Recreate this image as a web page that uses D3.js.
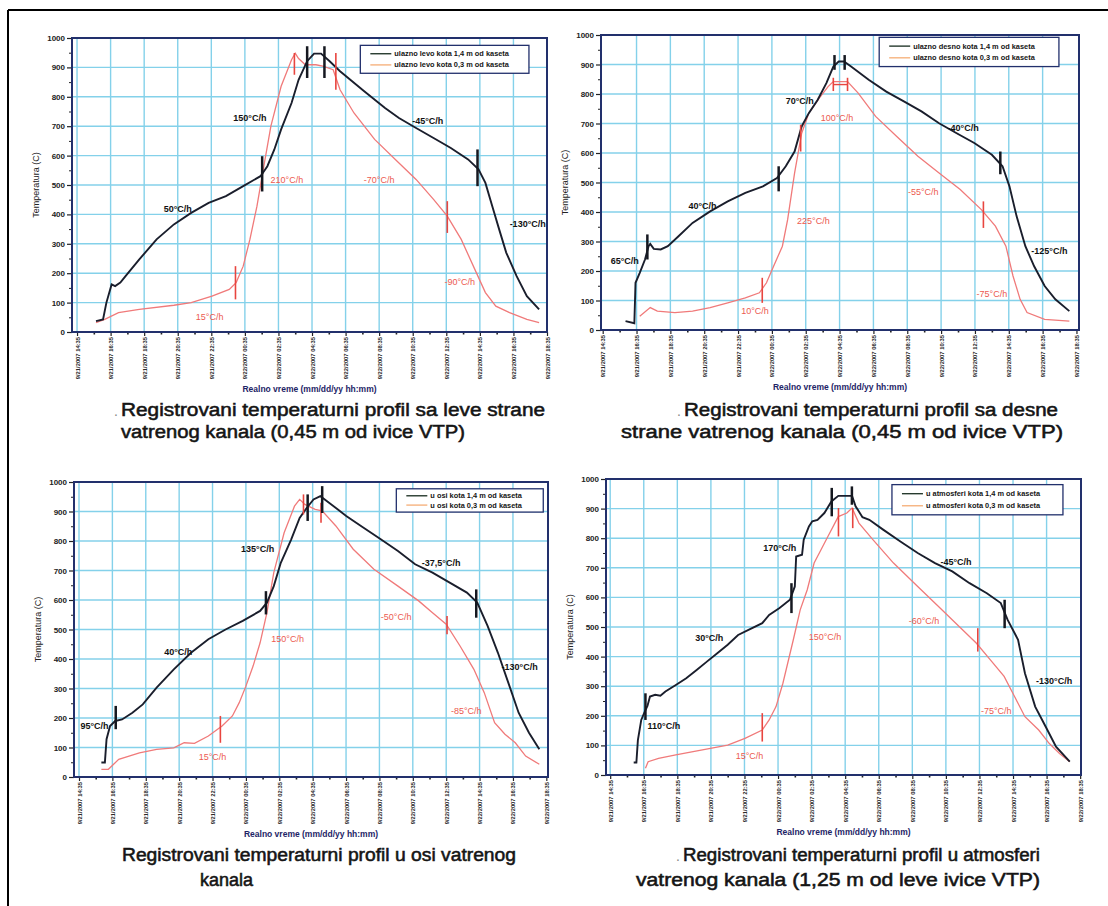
<!DOCTYPE html>
<html><head><meta charset="utf-8">
<script src="https://cdn.jsdelivr.net/npm/d3@7"></script>
<style>body{margin:0;background:#fff}svg{display:block;font-family:"Liberation Sans",Arial,sans-serif}</style>
</head><body><svg id="c" width="1108" height="906"></svg>
<script>
// ---------- DATA ----------
const tickHours = [0,2,4,6,8,10,12,14,16,18,20,22,24,26,28];
const tickLabels = ["9/21/2007 14:35","9/21/2007 16:35","9/21/2007 18:35","9/21/2007 20:35","9/21/2007 22:35",
  "9/22/2007 00:35","9/22/2007 02:35","9/22/2007 04:35","9/22/2007 06:35","9/22/2007 08:35",
  "9/22/2007 10:35","9/22/2007 12:35","9/22/2007 14:35","9/22/2007 16:35","9/22/2007 18:35"];
const yTicks = [0,100,200,300,400,500,600,700,800,900,1000];

// panel 1: ulazno levo
const p1Upper = [[1.13,37],[1.55,43],[1.75,100],[2.06,162],[2.27,156],[2.58,168],[2.89,190],[3.71,247],[4.74,315],[5.77,366],[6.8,405],[7.84,439],[8.87,462],[9.9,496],[10.93,530],[11.34,564],[11.75,620],[12.16,689],[12.78,779],[13.2,858],[13.71,921],[14.12,947],[14.54,947],[15.05,921],[15.67,887],[17.11,819],[18.35,762],[19.18,728],[20.2,694],[21.24,660],[22.27,626],[23.3,587],[23.92,553],[24.33,507],[24.74,428],[25.15,349],[25.57,270],[26.19,190],[26.8,122],[27.53,77]];
const p1Lower = [[1.13,32],[1.65,43],[2.47,66],[3.71,77],[5.77,91],[6.8,100],[8.04,122],[9.07,145],[9.48,168],[9.9,224],[10.3,315],[10.72,428],[11.13,564],[11.55,700],[12.16,836],[12.78,926],[13.0,948],[13.2,930],[13.6,909],[14.23,909],[14.64,904],[15.26,892],[15.67,824],[16.5,745],[17.73,655],[19.18,575],[20.2,519],[21.24,451],[22.06,394],[22.89,315],[23.7,213],[24.33,134],[24.95,88],[25.77,66],[26.8,43],[27.53,32]];
const p1BlackNotes = [[10.3,730,"150°C/h"],[20.9,718,"-45°C/h"],[6.0,418,"50°C/h"],[26.85,367,"-130°C/h"]];
const p1RedNotes = [[12.5,517,"210°C/h"],[18.0,517,"-70°C/h"],[7.9,53,"15°C/h"],[22.8,169,"-90°C/h"]];
const p1BlackMarks = [[11.03,478,598],[13.71,864,972],[14.74,864,972],[23.86,496,621]];
const p1RedMarks = [[9.44,111,224],[12.95,875,949],[15.42,824,949],[22.06,337,445]];
const p1Legend = ["ulazno levo kota 1,4 m od kaseta","ulazno levo kota 0,3 m od kaseta"];

// panel 2: ulazno desno
const p2Upper = [[1.35,30],[1.87,23],[1.94,160],[2.19,194],[2.5,239],[2.71,284],[2.81,292],[3.02,275],[3.43,273],[3.85,284],[4.48,318],[5.31,363],[6.35,402],[7.39,436],[8.43,465],[9.47,487],[10.3,515],[10.82,555],[11.34,605],[11.76,690],[12.18,735],[12.7,780],[13.22,837],[13.63,893],[13.95,910],[14.26,910],[14.68,893],[15.72,848],[16.76,808],[17.8,775],[18.84,741],[19.88,701],[20.92,667],[21.96,634],[23.0,594],[23.63,555],[24.04,487],[24.46,386],[24.98,284],[25.5,216],[26.12,149],[26.75,104],[27.58,64]];
const p2Lower = [[2.19,47],[2.81,76],[3.23,64],[4.27,59],[5.31,64],[6.35,76],[7.39,92],[8.43,109],[9.26,126],[9.68,160],[10.1,216],[10.62,284],[10.93,374],[11.34,532],[11.76,667],[12.18,735],[12.8,786],[13.32,825],[13.63,842],[14.47,842],[15.1,803],[16.13,724],[17.38,656],[18.63,589],[19.88,532],[21.13,476],[22.38,408],[23.21,352],[23.83,284],[24.25,183],[24.67,104],[25.08,59],[26.12,36],[27.58,30]];
const p2BlackNotes = [[1.3,235,"65°C/h"],[5.9,421,"40°C/h"],[11.65,776,"70°C/h"],[21.3,686,"-40°C/h"],[26.4,269,"-125°C/h"]];
const p2RedNotes = [[13.85,720,"100°C/h"],[12.45,370,"225°C/h"],[18.95,469,"-55°C/h"],[9.0,66,"10°C/h"],[23.0,122,"-75°C/h"]];
const p2BlackMarks = [[2.64,239,324],[10.4,470,555],[13.7,882,932],[14.3,882,932],[23.5,528,605]];
const p2RedMarks = [[9.43,92,177],[11.7,605,696],[13.63,810,855],[14.47,810,855],[22.5,346,436]];
const p2RedBracket = [[13.63,832],[14.47,832]];
const p2Legend = ["ulazno desno kota 1,4 m od kaseta","ulazno desno kota 0,3 m od kaseta"];

// panel 3: u osi
const p3Upper = [[1.34,49],[1.55,49],[1.65,128],[1.86,173],[2.17,190],[2.58,195],[3.2,218],[3.82,246],[4.65,303],[5.68,365],[6.71,421],[7.75,467],[8.78,500],[9.81,529],[10.85,563],[11.26,591],[11.67,647],[12.09,726],[12.71,805],[13.22,878],[13.64,912],[14.05,941],[14.46,952],[14.98,930],[16.01,885],[17.05,845],[18.08,806],[19.11,766],[20.14,721],[21.18,693],[22.21,659],[23.24,625],[23.86,591],[24.48,512],[25.1,421],[25.72,320],[26.34,218],[26.96,150],[27.58,94]];
const p3Lower = [[1.34,26],[1.76,26],[2.38,60],[3.62,82],[4.65,94],[5.68,99],[6.3,116],[6.92,114],[7.75,139],[8.57,173],[9.19,207],[9.6,252],[10.0,308],[10.43,376],[10.85,455],[11.26,557],[11.67,693],[12.29,828],[12.91,918],[13.22,941],[13.53,924],[14.15,907],[14.57,902],[15.39,851],[16.43,772],[17.67,704],[19.11,647],[20.35,597],[21.18,557],[22.0,518],[22.83,444],[23.66,365],[24.28,286],[24.9,184],[25.52,145],[26.14,116],[26.76,71],[27.58,43]];
const p3BlackNotes = [[0.93,173,"95°C/h"],[5.95,423,"40°C/h"],[10.7,773,"135°C/h"],[21.7,725,"-37,5°C/h"],[26.4,374,"-130°C/h"]];
const p3RedNotes = [[12.5,468,"150°C/h"],[8.0,67,"15°C/h"],[19.0,542,"-50°C/h"],[23.2,223,"-85°C/h"]];
const p3BlackMarks = [[2.2,162,241],[11.2,551,630],[13.7,868,958],[14.57,895,986],[23.8,540,636]];
const p3RedMarks = [[8.47,116,207],[13.45,890,958],[14.5,862,930],[22.05,484,546]];
const p3Legend = ["u osi kota 1,4 m od kaseta","u osi kota 0,3 m od kaseta"];

// panel 4: u atmosferi
const p4Upper = [[1.4,42],[1.56,42],[1.65,118],[1.85,186],[2.06,214],[2.22,233],[2.37,265],[2.68,271],[2.99,268],[3.29,282],[3.91,304],[4.53,327],[5.15,355],[5.76,383],[6.38,411],[7.0,440],[7.62,473],[8.24,490],[9.06,513],[9.47,541],[10.09,564],[10.71,592],[11.0,637],[11.08,738],[11.43,744],[11.53,795],[11.84,840],[12.04,857],[12.35,862],[12.76,885],[13.18,924],[13.59,943],[14.41,943],[14.62,908],[15.03,871],[15.44,862],[16.26,829],[17.29,789],[18.32,750],[19.35,716],[20.38,688],[21.41,648],[22.44,614],[23.27,581],[23.68,524],[24.3,457],[24.71,344],[25.32,231],[25.94,164],[26.56,96],[27.38,45]];
const p4Lower = [[2.1,23],[2.26,45],[2.88,56],[3.91,68],[4.94,79],[5.97,90],[7.0,101],[8.03,124],[9.06,152],[9.47,186],[9.88,231],[10.29,310],[10.91,457],[11.32,558],[11.74,626],[12.15,716],[12.56,761],[12.97,806],[13.59,873],[14.1,885],[14.41,902],[14.82,851],[15.65,795],[16.88,716],[18.32,637],[19.56,569],[20.79,502],[21.82,445],[22.65,389],[23.47,333],[24.09,265],[24.71,197],[25.53,152],[26.15,107],[26.77,73],[27.38,45]];
const p4BlackNotes = [[3.2,166,"110°C/h"],[5.9,464,"30°C/h"],[10.1,768,"170°C/h"],[20.6,721,"-45°C/h"],[26.45,319,"-130°C/h"]];
const p4RedNotes = [[12.8,466,"150°C/h"],[8.3,64,"15°C/h"],[18.7,520,"-60°C/h"],[23.0,218,"-75°C/h"]];
const p4BlackMarks = [[2.1,186,276],[10.8,547,648],[13.2,874,970],[14.4,913,975],[23.5,496,592]];
const p4RedMarks = [[9.06,113,209],[13.6,806,902],[14.45,834,902],[21.9,417,496]];
const p4Legend = ["u atmosferi kota 1,4 m od kaseta","u atmosferi kota 0,3 m od kaseta"];

// ---------- LAYOUT ----------
const panels = [
  {box:[72,547,38,332], dom:[-0.3,28.0], up:p1Upper, lo:p1Lower, bn:p1BlackNotes, rn:p1RedNotes, bm:p1BlackMarks, rm:p1RedMarks, leg:p1Legend, lg:[0.607,0.962,975,880]},
  {box:[601,1079,35,330], dom:[-0.1,28.15], up:p2Upper, lo:p2Lower, bn:p2BlackNotes, rn:p2RedNotes, bm:p2BlackMarks, rm:p2RedMarks, leg:p2Legend, lg:[0.582,0.958,992,893], br:p2RedBracket},
  {box:[74,548,482,777], dom:[-0.3,28.1], up:p3Upper, lo:p3Lower, bn:p3BlackNotes, rn:p3RedNotes, bm:p3BlackMarks, rm:p3RedMarks, leg:p3Legend, lg:[0.68,0.99,977,898]},
  {box:[606,1081,479,775], dom:[-0.25,28.05], up:p4Upper, lo:p4Lower, bn:p4BlackNotes, rn:p4RedNotes, bm:p4BlackMarks, rm:p4RedMarks, leg:p4Legend, lg:[0.602,0.962,981,879]}
];

const BLACK = "#1a1e2c", RED = "#f07a7a", REDTXT = "#ec5a50", GRID = "#84d1ea", FRAME = "#22306c";
const svg = d3.select("#c");

// outer frame
svg.append("line").attr("x1",8).attr("x2",1108).attr("y1",10).attr("y2",10).attr("stroke","#000").attr("stroke-width",2);
svg.append("line").attr("x1",8).attr("x2",8).attr("y1",10).attr("y2",906).attr("stroke","#000").attr("stroke-width",2);

panels.forEach(p => {
  const [L,R,T,B] = p.box;
  const x = d3.scaleLinear().domain(p.dom).range([L,R]);
  const y = d3.scaleLinear().domain([0,1000]).range([B,T]);
  const g = svg.append("g");

  // grid
  g.append("g").selectAll("line").data(tickHours.filter(h => x(h) > L+3 && x(h) < R-3)).join("line")
    .attr("x1",d=>x(d)).attr("x2",d=>x(d)).attr("y1",T).attr("y2",B)
    .attr("stroke",GRID).attr("stroke-width",1.4);
  g.append("g").selectAll("line").data(yTicks.filter(v=>v>0&&v<1000)).join("line")
    .attr("x1",L).attr("x2",R).attr("y1",d=>y(d)).attr("y2",d=>y(d))
    .attr("stroke",GRID).attr("stroke-width",1.4);

  // series
  const line = d3.line().x(d=>x(d[0])).y(d=>y(d[1]));
  g.append("path").attr("d",line(p.lo)).attr("fill","none").attr("stroke",RED).attr("stroke-width",1.3);
  g.append("path").attr("d",line(p.up)).attr("fill","none").attr("stroke",BLACK).attr("stroke-width",1.9);

  // segment markers
  g.append("g").selectAll("line").data(p.rm).join("line")
    .attr("x1",d=>x(d[0])).attr("x2",d=>x(d[0])).attr("y1",d=>y(d[1])).attr("y2",d=>y(d[2]))
    .attr("stroke","#e8453f").attr("stroke-width",1.6);
  if (p.br) g.append("path").attr("d",line(p.br)).attr("stroke","#e8453f").attr("stroke-width",1.4).attr("fill","none");
  g.append("g").selectAll("line").data(p.bm).join("line")
    .attr("x1",d=>x(d[0])).attr("x2",d=>x(d[0])).attr("y1",d=>y(d[1])).attr("y2",d=>y(d[2]))
    .attr("stroke","#151820").attr("stroke-width",2.5);

  // notes
  g.append("g").selectAll("text").data(p.bn).join("text")
    .attr("x",d=>x(d[0])).attr("y",d=>y(d[1])).attr("dy","0.35em").attr("text-anchor","middle")
    .attr("font-size",9).attr("font-weight","bold").attr("fill","#111").text(d=>d[2]);
  g.append("g").selectAll("text").data(p.rn).join("text")
    .attr("x",d=>x(d[0])).attr("y",d=>y(d[1])).attr("dy","0.35em").attr("text-anchor","middle")
    .attr("font-size",9).attr("fill",REDTXT).text(d=>d[2]);

  // y axis
  const ya = g.append("g").attr("transform",`translate(${L},0)`)
    .call(d3.axisLeft(y).tickValues(yTicks).tickFormat(d3.format("d")).tickSize(5).tickPadding(2));
  ya.select(".domain").remove();
  ya.selectAll("line").attr("stroke","#222").attr("stroke-width",1.2);
  ya.selectAll("text").attr("font-size",8).attr("font-weight","bold").attr("fill","#222").attr("font-family","Liberation Sans, Arial");
  g.append("g").attr("transform",`translate(${L},0)`)
    .call(d3.axisLeft(y).tickValues(d3.range(50,1000,100)).tickSize(3).tickFormat(""))
    .call(a=>a.select(".domain").remove()).selectAll("line").attr("stroke","#222");

  // x axis
  const xa = g.append("g").attr("transform",`translate(0,${B})`)
    .call(d3.axisBottom(x).tickValues(tickHours).tickFormat((d,i)=>tickLabels[i]).tickSize(4));
  xa.select(".domain").remove();
  xa.selectAll("line").attr("stroke","#222").attr("stroke-width",1.2);
  xa.selectAll("text").attr("transform","rotate(-90)").attr("text-anchor","end")
    .attr("x",-5).attr("y",0).attr("dy","0.35em")
    .attr("font-size",5.8).attr("font-weight","bold").attr("fill","#2a2a2a").attr("font-family","Liberation Sans, Arial");
  g.append("g").attr("transform",`translate(0,${B})`)
    .call(d3.axisBottom(x).tickValues(d3.range(1,28,2)).tickSize(2.5).tickFormat(""))
    .call(a=>a.select(".domain").remove()).selectAll("line").attr("stroke","#222").attr("stroke-width",1.6);

  // plot border
  g.append("rect").attr("x",L).attr("y",T).attr("width",R-L).attr("height",B-T)
    .attr("fill","none").attr("stroke",FRAME).attr("stroke-width",2);

  // axis titles
  g.append("text").attr("transform",`translate(${L-33},${(T+B)/2}) rotate(-90)`).attr("text-anchor","middle")
    .attr("font-size",9).attr("fill","#222").text("Temperatura (C)");
  g.append("text").attr("x",(L+R)/2).attr("y",B+60).attr("text-anchor","middle")
    .attr("font-size",8.5).attr("font-weight","bold").attr("fill","#1d2466").text("Realno vreme (mm/dd/yy hh:mm)");

  // legend
  const lx0 = L + p.lg[0]*(R-L), lx1 = L + p.lg[1]*(R-L), ly0 = y(p.lg[2]), ly1 = y(p.lg[3]);
  const lgG = g.append("g");
  lgG.append("rect").attr("x",lx0).attr("y",ly0).attr("width",lx1-lx0).attr("height",ly1-ly0)
    .attr("fill","#fff").attr("stroke",FRAME).attr("stroke-width",1.3);
  const rows = lgG.selectAll("g.row").data(p.leg).join("g").attr("class","row")
    .attr("transform",(d,i)=>`translate(${lx0},${ly0 + (ly1-ly0)*(i===0?0.3:0.7)})`);
  rows.append("line").attr("x1",10).attr("x2",31).attr("y1",0).attr("y2",0)
    .attr("stroke",(d,i)=>i===0?"#263a2e":"#f6b37f").attr("stroke-width",1.4);
  rows.append("text").attr("x",34).attr("dy","0.35em").attr("font-size",7.4).attr("font-weight","bold")
    .attr("fill","#151515").text(d=>d);
});

// captions
const captions = [
  [121,416,424,"Registrovani temperaturni profil sa leve strane",true],
  [121,438,344,"vatrenog kanala (0,45 m od ivice VTP)",false],
  [684,416,374,"Registrovani temperaturni profil sa desne",true],
  [621,438,442,"strane vatrenog kanala (0,45 m od ivice VTP)",false],
  [122,861,394,"Registrovani temperaturni profil u osi vatrenog",false],
  [200,886,53,"kanala",false],
  [683,861,357,"Registrovani temperaturni profil u atmosferi",true],
  [636,886,404,"vatrenog kanala (1,25 m od leve ivice VTP)",false]
];
captions.forEach(c => {
  svg.append("text").attr("x",c[0]).attr("y",c[1]).attr("font-size",18).attr("fill","#151515")
    .attr("stroke","#151515").attr("stroke-width",0.55)
    .attr("textLength",c[2]).attr("lengthAdjust","spacingAndGlyphs").text(c[3]);
  if (c[4]) svg.append("text").attr("x",c[0]-7).attr("y",c[1]).attr("font-size",14).attr("fill","#888").text(".");
});
</script>
</body></html>
